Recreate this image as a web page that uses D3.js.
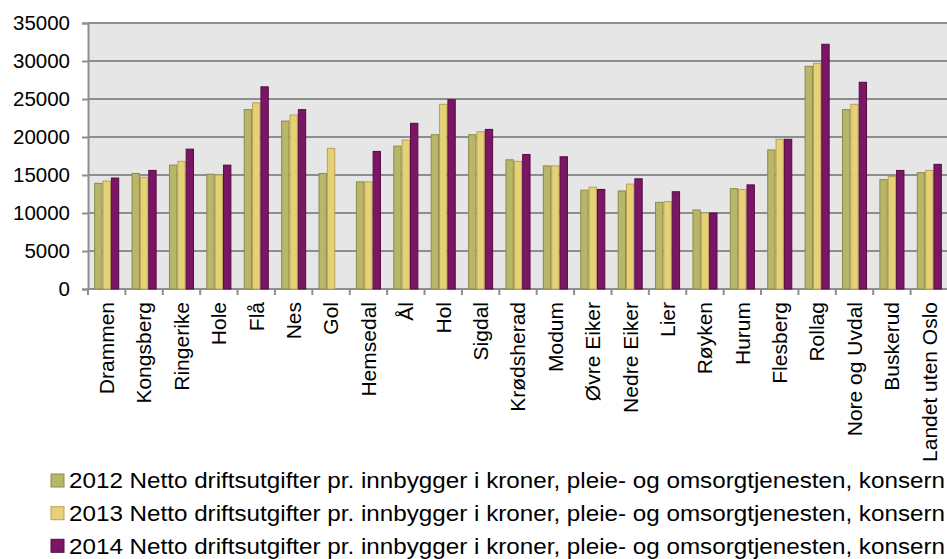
<!DOCTYPE html>
<html>
<head>
<meta charset="utf-8">
<script src="https://cdn.jsdelivr.net/npm/d3@7/dist/d3.min.js"></script>
<style>
html,body{margin:0;padding:0;background:#fff;}
svg{display:block;font-family:"Liberation Sans",Arial,sans-serif;}
</style>
</head>
<body>
<svg id="chart" width="947" height="559"></svg>
<script>
const categories = ["Drammen","Kongsberg","Ringerike","Hole","Flå","Nes","Gol","Hemsedal","Ål","Hol","Sigdal","Krødsherad","Modum","Øvre Eiker","Nedre Eiker","Lier","Røyken","Hurum","Flesberg","Rollag","Nore og Uvdal","Buskerud","Landet uten Oslo"];
const values2012 = [13900,15200,16300,15100,23600,22100,15200,14100,18800,20300,20300,17000,16200,13000,12900,11400,10400,13200,18300,29300,23600,14400,15300];
const values2013 = [14200,14700,16800,15000,24500,22900,18500,14100,19600,24300,20700,16800,16200,13400,13800,11500,10000,13100,19700,29700,24300,14800,15600];
const values2014 = [14600,15600,18400,16300,26600,23600,null,18100,21800,24900,21000,17700,17400,13100,14500,12800,10000,13700,19700,32200,27200,15600,16400];
const yTicks = [0,5000,10000,15000,20000,25000,30000,35000];
const seriesNames = [
  "2012 Netto driftsutgifter pr. innbygger i kroner, pleie- og omsorgtjenesten, konsern",
  "2013 Netto driftsutgifter pr. innbygger i kroner, pleie- og omsorgtjenesten, konsern",
  "2014 Netto driftsutgifter pr. innbygger i kroner, pleie- og omsorgtjenesten, konsern"
];
const seriesValues = [values2012, values2013, values2014];
const fills = ["#b8b668","#e6d176","#7b1664"];
const strokes = ["#8d8a4b","#b9a257","#550b43"];

const svg = d3.select("#chart");
const pLeft = 88, pRight = 948, pTop = 23, pBottom = 289;

const x = d3.scaleBand().domain(categories).range([pLeft, pRight]).paddingInner(0.33).paddingOuter(0.165);
const xb = d3.scaleBand().domain(categories).range([pLeft, pRight]);
const xs = d3.scaleBand().domain([0,1,2]).range([0, x.bandwidth()]);
const y = d3.scaleLinear().domain([0,35000]).range([pBottom, pTop]);

// plot background
svg.append("rect").attr("x", pLeft).attr("y", pTop).attr("width", pRight-pLeft).attr("height", pBottom-pTop).attr("fill", "#e6e6e6");

// gridlines
svg.append("g").selectAll("line").data(yTicks).join("line")
  .attr("x1", pLeft).attr("x2", pRight)
  .attr("y1", d => y(d)).attr("y2", d => y(d))
  .attr("stroke", "#8e8e8e").attr("stroke-width", 2);

// y axis
const yAxis = d3.axisLeft(y).tickValues(yTicks).tickSize(6).tickPadding(12).tickFormat(d3.format("d"));
const yg = svg.append("g").attr("transform", `translate(${pLeft},0)`).call(yAxis);
yg.select(".domain").attr("stroke", "#8e8e8e").attr("stroke-width", 2);
yg.selectAll(".tick line").attr("stroke", "#8e8e8e").attr("stroke-width", 2);
yg.selectAll(".tick text").attr("font-size", 20.5).attr("fill", "#000").attr("font-family", "Liberation Sans, Arial, sans-serif");

// x axis ticks at category boundaries
const bounds = categories.map(c => xb(c)).concat([pRight]);
svg.append("g").selectAll("line").data(bounds).join("line")
  .attr("x1", d => d).attr("x2", d => d)
  .attr("y1", pBottom).attr("y2", pBottom + 6)
  .attr("stroke", "#8e8e8e").attr("stroke-width", 2);

// bars
seriesValues.forEach((vals, si) => {
  svg.append("g").selectAll("rect").data(categories.map((c,i)=>({c, v: vals[i]})).filter(d => d.v != null)).join("rect")
    .attr("x", d => x(d.c) + xs(si) + 0.5)
    .attr("y", d => y(d.v))
    .attr("width", xs.bandwidth() - 1)
    .attr("height", d => pBottom - y(d.v))
    .attr("fill", fills[si])
    .attr("stroke", strokes[si])
    .attr("stroke-width", 1);
});

// x labels
svg.append("g").selectAll("text").data(categories).join("text")
  .attr("transform", d => `translate(${xb(d) + xb.bandwidth()/2},302) rotate(-90)`)
  .attr("text-anchor", "end")
  .attr("dy", "0.35em")
  .attr("font-size", 21)
  .attr("fill", "#000")
  .text(d => d);

// legend
const legendTops = [474, 506.7, 539.3];
const lg = svg.append("g");
seriesNames.forEach((name, i) => {
  lg.append("rect").attr("x", 51).attr("y", legendTops[i]).attr("width", 13).attr("height", 13)
    .attr("fill", fills[i]).attr("stroke", strokes[i]).attr("stroke-width", 1);
  lg.append("text").attr("x", 69).attr("y", legendTops[i] + 14.2)
    .attr("font-size", 22).attr("fill", "#000")
    .attr("textLength", 876).attr("lengthAdjust", "spacingAndGlyphs")
    .text(name);
});
</script>
</body>
</html>
